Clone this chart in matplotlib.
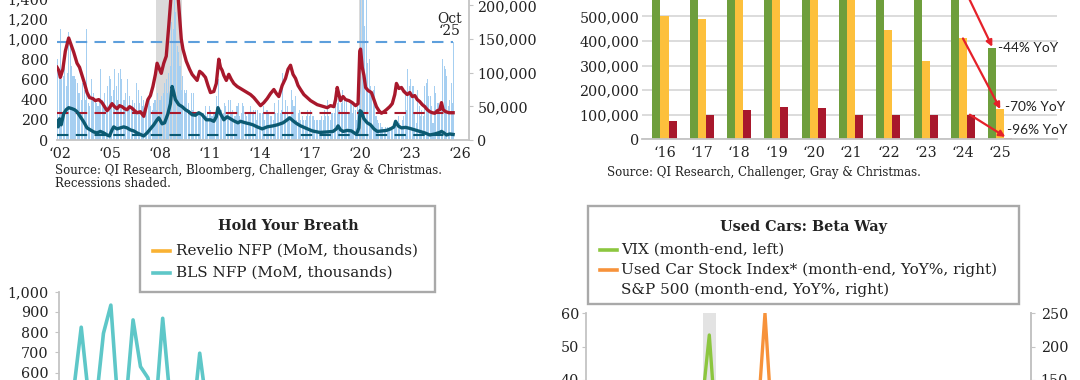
#!/usr/bin/env python3
"""
Four cropped panels: job cuts, hiring plans, NFP and used-car stocks
"""

import matplotlib

matplotlib.use("Agg")
import matplotlib.pyplot as plt
import matplotlib.transforms as mtransforms
import numpy as np
from matplotlib.lines import Line2D
from matplotlib.patches import Rectangle

W, H = 1080, 380

plt.rcParams["font.family"] = ["DejaVu Serif"]
plt.rcParams["font.size"] = 10
plt.rcParams["text.color"] = "#222222"
plt.rcParams["xtick.color"] = "#222222"
plt.rcParams["ytick.color"] = "#222222"

# ---------------- data: top left ----------------
# monthly job cuts (thousands), Jan 2002 .. Oct 2025
job_cuts_k = [
    120, 105, 165, 90, 95, 125, 80, 100, 160, 150, 110, 95,  # 2002
    95, 90, 85, 70, 70, 60, 85, 75, 60, 165, 55, 50,  # 2003
    90, 60, 70, 60, 55, 50, 55, 105, 60, 55, 70, 45,  # 2004
    80, 95, 90, 65, 75, 105, 80, 60, 100, 105, 90, 60,  # 2005
    60, 70, 90, 50, 65, 50, 60, 55, 45, 85, 75, 55,  # 2006
    65, 50, 60, 50, 45, 55, 65, 50, 45, 55, 60, 45,  # 2007
    70, 60, 60, 65, 70, 85, 90, 70, 100, 110, 175, 165,  # 2008
    240, 190, 140, 130, 110, 75, 95, 75, 70, 75, 55, 45,  # 2009
    70, 45, 70, 40, 40, 40, 40, 35, 35, 40, 50, 35,  # 2010
    40, 50, 45, 35, 40, 40, 65, 50, 90, 40, 45, 40,  # 2011
    55, 50, 40, 60, 60, 40, 45, 35, 35, 50, 55, 35,  # 2012
    40, 55, 50, 40, 35, 40, 40, 50, 40, 45, 45, 30,  # 2013
    45, 40, 40, 40, 50, 30, 45, 45, 40, 35, 35, 30,  # 2014
    55, 40, 40, 60, 40, 45, 100, 40, 60, 50, 35, 30,  # 2015
    75, 60, 50, 65, 30, 40, 45, 30, 35, 30, 30, 35,  # 2016
    45, 35, 45, 35, 35, 30, 30, 30, 30, 30, 35, 30,  # 2017
    45, 35, 60, 35, 30, 40, 40, 40, 55, 55, 75, 45,  # 2018
    55, 75, 60, 40, 60, 40, 40, 55, 40, 50, 45, 30,  # 2019
    65, 55, 230, 670, 400, 170, 260, 115, 120, 80, 65, 75,  # 2020
    80, 35, 30, 25, 25, 20, 20, 15, 20, 20, 15, 20,  # 2021
    20, 15, 20, 25, 20, 35, 25, 20, 30, 35, 75, 45,  # 2022
    105, 80, 90, 80, 80, 40, 25, 75, 50, 35, 45, 35,  # 2023
    80, 85, 90, 65, 65, 50, 25, 80, 70, 55, 55, 40,  # 2024
    50, 120, 110, 105, 95, 50, 60, 85, 55, 146,  # 2025
]
oct25_level = 146000

red_years = [
    2002.0, 2002.1, 2002.2, 2002.35, 2002.5, 2002.7, 2002.85, 2003.0, 2003.2, 2003.35,
    2003.5, 2003.65, 2003.8, 2003.95, 2004.15, 2004.3, 2004.5, 2004.7, 2004.85, 2005.0,
    2005.15, 2005.3, 2005.45, 2005.6, 2005.75, 2005.9, 2006.05, 2006.2, 2006.35, 2006.5,
    2006.65, 2006.8, 2007.0, 2007.2, 2007.3, 2007.45, 2007.6, 2007.75, 2007.9, 2008.0,
    2008.15, 2008.25, 2008.4, 2008.55, 2008.7, 2008.85, 2009.0, 2009.15, 2009.3, 2009.45,
    2009.55, 2009.75, 2009.95, 2010.1, 2010.25, 2010.4, 2010.55, 2010.7, 2010.9, 2011.05,
    2011.2, 2011.4, 2011.55, 2011.7, 2011.8, 2011.9, 2012.0, 2012.15, 2012.3, 2012.45,
    2012.6, 2012.8, 2013.0, 2013.2, 2013.4, 2013.6, 2013.8, 2014.0, 2014.2, 2014.4,
    2014.6, 2014.8, 2015.0, 2015.15, 2015.3, 2015.5, 2015.7, 2015.85, 2016.0, 2016.15,
    2016.3, 2016.45, 2016.6, 2016.8, 2017.0, 2017.2, 2017.4, 2017.6, 2017.8, 2018.0,
    2018.2, 2018.4, 2018.6, 2018.7, 2018.8, 2018.9, 2019.0, 2019.15, 2019.3, 2019.5,
    2019.7, 2019.9, 2020.05, 2020.15, 2020.2, 2020.3, 2020.4, 2020.5, 2020.65, 2020.85,
    2021.0, 2021.15, 2021.3, 2021.45, 2021.6, 2021.75, 2021.95, 2022.1, 2022.25, 2022.35,
    2022.5, 2022.65, 2022.8, 2023.0, 2023.15, 2023.3, 2023.45, 2023.6, 2023.75, 2023.9,
    2024.05, 2024.2, 2024.35, 2024.5, 2024.65, 2024.8, 2024.95, 2025.05, 2025.15, 2025.3,
    2025.5, 2025.75,
]
red_values = [
    720, 690, 620, 700, 880, 1010, 940, 870, 760, 720,
    640, 560, 470, 420, 410, 390, 400, 370, 330, 290,
    320, 360, 330, 310, 340, 330, 310, 300, 330, 315,
    290, 270, 280, 235, 300, 400, 440, 530, 650, 760,
    700, 660, 760, 830, 1130, 1450, 1700, 1650, 1330, 1000,
    900, 780, 700, 650, 620, 590, 680, 660, 620, 540,
    470, 480, 560, 800, 720, 690, 640, 590, 650, 600,
    560, 530, 510, 490, 470, 450, 420, 380, 340, 370,
    410, 460, 500, 460, 430, 540, 610, 700, 740, 650,
    610, 540, 500, 450, 420, 390, 370, 350, 340, 330,
    320, 340, 330, 400, 520, 450, 390, 430, 400, 390,
    370, 340, 360, 880, 900, 720, 640, 520, 490, 470,
    400, 330, 290, 265, 280, 300, 330, 360, 450, 560,
    510, 520, 480, 450, 470, 430, 440, 400, 380, 350,
    330, 300, 280, 270, 265, 290, 300, 370, 300, 280,
    270, 270,
]
red_avg = 267

teal_years = [
    2002.0, 2002.07, 2002.15, 2002.25, 2002.4, 2002.55, 2002.7, 2002.9, 2003.05, 2003.2,
    2003.4, 2003.6, 2003.8, 2004.0, 2004.2, 2004.4, 2004.6, 2004.8, 2005.0, 2005.15,
    2005.3, 2005.4, 2005.6, 2005.8, 2006.0, 2006.2, 2006.4, 2006.6, 2006.8, 2007.0,
    2007.2, 2007.4, 2007.6, 2007.8, 2008.0, 2008.1, 2008.3, 2008.45, 2008.65, 2008.8,
    2008.9, 2009.0, 2009.1, 2009.3, 2009.5, 2009.7, 2009.9, 2010.1, 2010.3, 2010.5,
    2010.7, 2010.95, 2011.2, 2011.4, 2011.55, 2011.65, 2011.8, 2012.0, 2012.2, 2012.35,
    2012.6, 2012.85, 2013.0, 2013.3, 2013.55, 2013.75, 2014.0, 2014.3, 2014.6, 2014.95,
    2015.2, 2015.55, 2015.8, 2015.95, 2016.15, 2016.35, 2016.6, 2016.95, 2017.3, 2017.75,
    2018.2, 2018.55, 2018.75, 2018.85, 2019.0, 2019.15, 2019.4, 2019.65, 2019.95, 2020.1,
    2020.17, 2020.25, 2020.4, 2020.6, 2020.8, 2021.0, 2021.2, 2021.5, 2021.75, 2022.0,
    2022.2, 2022.3, 2022.45, 2022.65, 2022.9, 2023.15, 2023.45, 2023.75, 2024.05, 2024.35,
    2024.65, 2024.95, 2025.05, 2025.2, 2025.35, 2025.55, 2025.75,
]
teal_values = [
    190, 130, 210, 150, 260, 300, 320, 310, 300, 280,
    230, 180, 120, 100, 80, 70, 85, 70, 50, 40,
    100, 130, 110, 120, 130, 120, 100, 90, 70, 55,
    40, 70, 110, 150, 200, 220, 160, 170, 260, 360,
    530, 470, 400, 350, 330, 300, 280, 250, 245, 270,
    250, 200, 200, 185, 230, 320, 260, 200, 230, 215,
    190, 170, 185, 170, 160, 150, 130, 110, 130, 140,
    150, 170, 200, 220, 190, 165, 140, 115, 90, 75,
    80, 85, 110, 140, 100, 85, 95, 90, 55, 120,
    290, 280, 210, 170, 150, 110, 85, 90, 95, 110,
    130, 185, 140, 120, 125, 115, 100, 85, 70, 50,
    60, 75, 85, 70, 50, 60, 55,
]
teal_avg = 53

# ---------------- data: top right ----------------
bar_labels = ["\u201816", "\u201817", "\u201818", "\u201819", "\u201820",
              "\u201821", "\u201822", "\u201823", "\u201824", "\u201825"]
green_k = [780, 820, 850, 880, 900, 870, 900, 760, 660, 370]
yellow_k = [500, 490, 640, 680, 700, 660, 445, 320, 410, 123]
red_k = [75, 100, 120, 130, 128, 100, 100, 100, 100, 4]
yoy_labels = ["-44% YoY", "-70% YoY", "-96% YoY"]

# ---------------- data: bottom left ----------------
bls_nfp = [400, 350, 520, 824, 480, 450, 794, 933, 420, 440, 860, 630, 575, 400,
           868, 470, 380, 400, 350, 696, 420, 380, 300, 330, 280, 250, 230, 260]
revelio_nfp = [150, 180, 120, 200, 160, 140, 210, 170, 130, 150, 190, 120, 100, 140,
               110, 90, 120, 80, 100, 70, 60, 90, 50, 40, 60, 30, 20, 40]

# ---------------- data: bottom right ----------------
vix = [
    13.5, 19.9, 20.0, 15.9, 15.4, 16.1, 12.8, 12.9, 12.1, 21.2, 18.1, 25.4,  # 2018
    16.6, 14.8, 13.7, 13.1, 18.7, 15.1, 16.1, 19.0, 16.2, 13.2, 12.6, 13.8,  # 2019
    18.8, 40.1, 53.5, 34.2, 27.5, 30.4, 24.5, 26.4, 26.4, 38.0, 20.6, 22.8,  # 2020
    33.1, 28.0, 19.4, 18.6, 16.8, 15.8, 18.2, 16.5, 23.1, 16.3, 27.2, 17.2,  # 2021
    24.8, 30.2, 20.6, 33.4, 26.2, 28.7, 21.3, 25.9, 31.6, 25.9, 20.6, 21.7,  # 2022
    19.4, 20.7, 18.7, 15.8, 17.9, 13.6, 13.6, 13.6, 17.5, 18.1, 12.9, 12.5,  # 2023
    14.4, 13.4, 13.0, 15.7, 12.9, 12.4, 16.4, 15.0, 16.7, 23.2, 13.5, 17.4,  # 2024
    16.4, 19.6, 22.3, 24.7, 18.6, 16.7, 16.7, 15.4, 16.3, 17.4,  # 2025
]
used_car_yoy = [
    20, 15, 10, 12, 18, 22, 15, 20, 10, -5, -10, -25,
    -10, -5, 0, 5, -5, 0, 5, -10, -5, 0, 10, 15,
    10, -20, -55, -40, -30, -15, 0, 20, 30, 45, 70, 90,
    110, 150, 250, 140, 110, 90, 80, 70, 60, 55, 30, 10,
    -20, -25, -35, -45, -55, -65, -60, -55, -65, -70, -75, -80,
    -65, -55, -50, -35, -20, 0, 20, 30, 10, -10, 15, 40,
    30, 35, 25, 10, 15, 30, 40, 35, 45, 50, 60, 55,
    50, 30, 10, 5, 15, 10, 0, 5, -5, -10,
]
spx_yoy = [
    24, 15, 12, 11, 12, 12, 14, 18, 16, 5, 4, -7,
    -4, 2, 7, 11, 2, 8, 6, 0, 2, 12, 14, 29,
    19, 6, -9, -1, 10, 5, 10, 20, 13, 7, 15, 16,
    15, 29, 54, 44, 38, 39, 34, 29, 28, 41, 26, 27,
    21, 14, 14, 0, -1, -12, -6, -13, -17, -16, -11, -19,
    -10, -9, -9, 1, 1, 17, 11, 14, 19, 8, 12, 24,
    19, 28, 28, 21, 26, 23, 21, 25, 34, 36, 30, 23,
    24, 16, 7, 10, 12, 13, 15, 14, 16, 19,
]

# ---------------- styling ----------------
GRAY = "#c4c4c4"
TICK_FS = 10.3
CRIMSON = "#a8182c"
DEEP_TEAL = "#0c5a72"
BAR_BLUE = "#a6cff1"
DASH_BLUE = "#5d9fdc"
GREEN = "#6e9e3c"
YELLOW = "#fdc03c"
ARROW = "#e5212a"
DASHES = (0, (5.5, 3.5))

fig = plt.figure(figsize=(W / 100, H / 100), dpi=100)


def add_ax(left, top, right, bottom):
    """Axes placed by pixel box (top-left origin)"""
    return fig.add_axes([left / W, 1 - bottom / H, (right - left) / W, (bottom - top) / H])


def style_spines(ax, visible):
    for name, spine in ax.spines.items():
        spine.set_visible(name in visible)
        spine.set_color(GRAY)
        spine.set_linewidth(1.3)


def comma(values):
    return [f"{v:,}" for v in values]


# ---------------- top left ----------------
ax = add_ax(57, 140 - 151.5, 469, 140)
ax2 = ax.twinx()
ax.yaxis.tick_right()
ax2.yaxis.tick_left()

months = 2002 + (np.arange(len(job_cuts_k)) + 0.5) / 12
ax.axvspan(2007.92, 2009.5, color="#dadada", lw=0)
ax.axvspan(2020.1, 2020.33, color="#dadada", lw=0)
ax.bar(months, np.array(job_cuts_k) * 1000, width=0.062, color=BAR_BLUE, lw=0)
ax.hlines(oct25_level, 2002.0, 2025.72, color=DASH_BLUE, lw=1.5, linestyles=DASHES)
ax.set_xlim(2002.0, 2026.7)
ax.set_ylim(0, 225000)
ax.set_yticks(range(0, 200001, 50000), comma(range(0, 200001, 50000)))
ax.set_xticks(range(2002, 2027, 3), [f"\u2018{y % 100:02d}" for y in range(2002, 2027, 3)])
ax.tick_params(axis="y", labelsize=TICK_FS, length=3, color=GRAY, pad=3)
ax.tick_params(axis="x", labelsize=TICK_FS, length=0, pad=5)
shift = mtransforms.ScaledTranslation(3 / 100, 0, fig.dpi_scale_trans)
for lbl in ax.get_xticklabels():
    lbl.set_transform(lbl.get_transform() + shift)
style_spines(ax, ["right", "bottom"])

ax2.hlines(red_avg, 2002.0, 2025.72, color=CRIMSON, lw=1.5, linestyles=DASHES)
ax2.hlines(teal_avg, 2002.0, 2025.72, color=DEEP_TEAL, lw=1.5, linestyles=DASHES)
ax2.plot(red_years, red_values, color=CRIMSON, lw=2.4, solid_joinstyle="round")
ax2.plot(teal_years, teal_values, color=DEEP_TEAL, lw=2.4, solid_joinstyle="round")
ax2.text(2025.55, 1005, "Oct\n\u201825", ha="center", va="bottom", fontsize=10, linespacing=0.85)
ax2.set_ylim(0, 1500)
ax2.set_yticks(range(0, 1401, 200), comma(range(0, 1401, 200)))
ax2.tick_params(axis="y", labelsize=TICK_FS, length=0, pad=6)
style_spines(ax2, [])

fig.text(55 / W, 1 - 170 / H, "Source: QI Research, Bloomberg, Challenger, Gray & Christmas.",
         fontsize=8.5, va="center")
fig.text(55 / W, 1 - 184 / H, "Recessions shaded.", fontsize=8.5, va="center")

# ---------------- top right ----------------
ax = add_ax(642, 139.3 - 24.6 * 6, 1057, 139.3)
x = np.arange(len(bar_labels))
bw = 0.215
ax.bar(x - bw, np.array(green_k) * 1000, bw, color=GREEN, lw=0)
ax.bar(x, np.array(yellow_k) * 1000, bw, color=YELLOW, lw=0)
ax.bar(x + bw, np.array(red_k) * 1000, bw, color=CRIMSON, lw=0)
ax.set_xlim(-0.603, 10.52)
ax.set_ylim(0, 600000)
ax.yaxis.grid(True, color="#d9d9d9", lw=1.3)
ax.set_axisbelow(True)
ax.set_yticks(range(0, 500001, 100000), comma(range(0, 500001, 100000)))
ax.set_xticks(x, bar_labels)
ax.tick_params(axis="y", labelsize=TICK_FS, length=0, pad=2)
ax.tick_params(axis="x", labelsize=TICK_FS, length=0, pad=5)
style_spines(ax, ["bottom"])

arrow = dict(arrowstyle="-|>", color=ARROW, lw=1.6, mutation_scale=9, shrinkA=0, shrinkB=0)
ax.annotate("", xy=(9 - bw, green_k[9] * 1000 + 6000), xytext=(8 - bw + 0.1, green_k[8] * 1000),
            arrowprops=arrow, annotation_clip=False)
ax.annotate("", xy=(9, yellow_k[9] * 1000), xytext=(8, yellow_k[8] * 1000),
            arrowprops=arrow, annotation_clip=False)
ax.annotate("", xy=(9 + bw - 0.08, red_k[9] * 1000 + 6000), xytext=(8 + bw - 0.03, red_k[8] * 1000),
            arrowprops=arrow, annotation_clip=False)
for (tx, ty), label in zip([(8.94, 370000), (9.13, 131000), (9.18, 38000)], yoy_labels):
    ax.text(tx, ty, label, family="Lato", fontsize=9.8, va="center", ha="left")

fig.text(607 / W, 1 - 172 / H, "Source: QI Research, Challenger, Gray & Christmas.",
         fontsize=8.5, va="center")

# ---------------- bottom left ----------------
ax = add_ax(58.5, 291.5, 470, 494.5)
ax.plot(np.arange(len(revelio_nfp)), revelio_nfp, color="#f9b233", lw=2.6)
ax.plot(np.arange(len(bls_nfp)), bls_nfp, color="#5ec7c8", lw=2.6, solid_joinstyle="round")
ax.set_xlim(-0.07, 55.5)
ax.set_ylim(0, 1000)
ax.set_yticks(range(600, 1001, 100), comma(range(600, 1001, 100)))
ax.set_xticks([])
ax.tick_params(axis="y", labelsize=TICK_FS, length=3, color=GRAY, pad=4)
style_spines(ax, ["left"])

# ---------------- bottom right ----------------
ax = add_ax(586, 313.3, 1031, 513.3)
t = 2018 + np.arange(len(vix)) / 12
ax.axvspan(2020.06, 2020.29, color="#e3e3e3", lw=0)
ax.plot(t, vix, color="#8cc63f", lw=2.4)
ax.set_xlim(2017.953, 2025.943)
ax.set_ylim(0, 60)
ax.set_yticks(range(40, 61, 10))
ax.set_xticks([])
ax.tick_params(axis="y", labelsize=TICK_FS, length=3, color=GRAY, pad=2)
style_spines(ax, ["left", "right"])

ax2 = ax.twinx()
ax2.plot(t, spx_yoy, color="#1f3b73", lw=2.0)
ax2.plot(t, used_car_yoy, color="#f7923a", lw=2.4)
ax2.set_ylim(-50, 250)
ax2.set_yticks(range(150, 251, 50))
ax2.tick_params(axis="y", labelsize=TICK_FS, length=3, color=GRAY, pad=4)
style_spines(ax2, ["right"])


# ---------------- legend boxes ----------------
def legend_box(box, title, title_xy, entries, handle_x, text_x):
    x0, y0, x1, y1 = box
    fig.add_artist(Rectangle((x0 / W, 1 - y1 / H), (x1 - x0) / W, (y1 - y0) / H,
                             transform=fig.transFigure, facecolor="white",
                             edgecolor="#a9a9a9", lw=1.7, zorder=5))
    fig.text(title_xy[0] / W, 1 - title_xy[1] / H, title, ha="center", va="center",
             fontsize=10.4, fontweight="bold", zorder=6)
    for y, color, label in entries:
        if color:
            fig.add_artist(Line2D([handle_x[0] / W, handle_x[1] / W], [1 - y / H] * 2,
                                  transform=fig.transFigure, color=color, lw=2.6, zorder=6))
        fig.text(text_x / W, 1 - y / H, label, va="center", fontsize=11, zorder=6)


legend_box((140, 206, 435, 291.5), "Hold Your Breath", (288, 226),
           [(251, "#f9b233", "Revelio NFP (MoM, thousands)"),
            (273, "#5ec7c8", "BLS NFP (MoM, thousands)")],
           (153, 170), 176)
legend_box((588, 206, 1019, 304), "Used Cars: Beta Way", (804, 227),
           [(250, "#8cc63f", "VIX (month-end, left)"),
            (270, "#f7923a", "Used Car Stock Index* (month-end, YoY%, right)"),
            (290, None, "S&P 500 (month-end, YoY%, right)")],
           (600, 617), 621)

fig.savefig("out.png", dpi=100)
